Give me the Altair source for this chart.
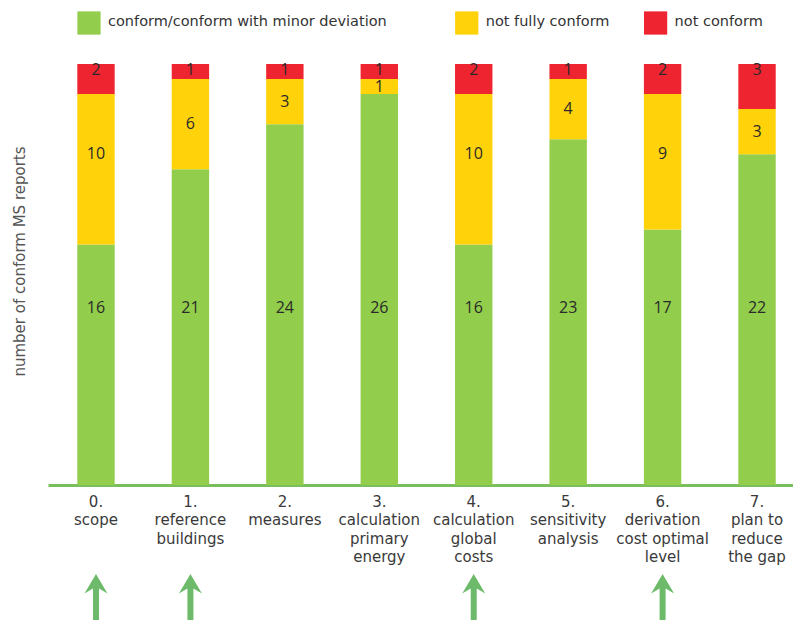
import altair as alt
import pandas as pd

categories = ["0.|scope", "1.|reference|buildings", "2.|measures",
              "3.|calculation|primary|energy", "4.|calculation|global|costs",
              "5.|sensitivity|analysis", "6.|derivation|cost optimal|level",
              "7.|plan to|reduce|the gap"]
conform = [16, 21, 24, 26, 16, 23, 17, 22]
not_fully = [10, 6, 3, 1, 10, 4, 9, 3]
not_conform = [2, 1, 1, 1, 2, 1, 2, 3]

statuses = ["conform/conform with minor deviation", "not fully conform", "not conform"]
status_colors = ["#92CD4C", "#FFD20A", "#EE2530"]
legend_categories = ["0.|scope", "4.|calculation|global|costs", "6.|derivation|cost optimal|level"]
arrow_categories = ["0.|scope", "1.|reference|buildings",
                    "4.|calculation|global|costs", "6.|derivation|cost optimal|level"]

rows = []
for i, c in enumerate(categories):
    for k, vals in enumerate([conform, not_fully, not_conform]):
        rows.append({"category": c, "status": statuses[k], "value": vals[i], "order": k})
df = pd.DataFrame(rows)
legend_df = pd.DataFrame({"category": legend_categories, "status": statuses})
arrow_df = pd.DataFrame({"category": arrow_categories})

xscale = alt.Scale(domain=categories, paddingInner=0.604, paddingOuter=0.2466, align=0.629)
color_scale = alt.Scale(domain=statuses, range=status_colors)

x_enc = alt.X("category:N", sort=categories, scale=xscale,
              axis=alt.Axis(title=None, labelExpr="split(datum.label, '|')", labelAngle=0,
                            labelFont="DejaVu Sans", labelFontSize=15, labelColor="#3a3a3a",
                            labelLineHeight=18.5, labelPadding=9, labelLimit=0,
                            ticks=False, domain=True, domainColor="#7BBE5E", domainWidth=3))

base = alt.Chart(df).transform_stack(
    stack="value", as_=["y0", "y1"], groupby=["category"],
    sort=[alt.SortField("order", order="ascending")])

bars = base.mark_bar().encode(
    x=x_enc,
    y=alt.Y("y0:Q", scale=alt.Scale(domain=[0, 28], nice=False),
            axis=alt.Axis(title="number of conform MS reports", domain=False, ticks=False,
                          labels=False, grid=False, titleAngle=270, titleX=-29, titleY=197,
                          titleBaseline="middle", titleAlign="center",
                          titleFont="DejaVu Sans", titleFontSize=15, titleFontWeight="normal",
                          titleColor="#555555")),
    y2="y1:Q",
    color=alt.Color("status:N", scale=color_scale, legend=None),
)

labels = base.transform_calculate(
    ly="datum.order == 0 ? 11.77 : (datum.order == 2 ? datum.y1 - 0.42 : datum.y1 - min(datum.value / 2, 4))"
).mark_text(font="Open Sans", fontSize=16, color="#2a2a2a", baseline="middle").encode(
    x=alt.X("category:N", sort=categories, scale=xscale),
    y=alt.Y("ly:Q"),
    text="value:Q",
)

legend_sq = alt.Chart(legend_df).mark_square(size=540, opacity=1, xOffset=-7).encode(
    x=alt.X("category:N", sort=categories, scale=xscale),
    y=alt.value(-41),
    color=alt.Color("status:N", scale=color_scale, legend=None),
)
legend_txt = alt.Chart(legend_df).mark_text(
    align="left", baseline="middle", dx=12, font="DejaVu Sans", fontSize=14.5, color="#333333"
).encode(
    x=alt.X("category:N", sort=categories, scale=xscale),
    y=alt.value(-42),
    text="status:N",
)

arrow_path = "M0,-1 L0.46,-0.22 L0.12,-0.42 L0.12,1 L-0.12,1 L-0.12,-0.42 L-0.46,-0.22 Z"
arrows = alt.Chart(arrow_df).mark_point(
    shape=arrow_path, size=2500, filled=True, opacity=1, color="#6DBB6A", strokeWidth=0
).encode(
    x=alt.X("category:N", sort=categories, scale=xscale),
    y=alt.value(535),
)

chart = alt.layer(bars, labels, legend_sq, legend_txt, arrows).properties(
    width=745, height=421,
    autosize=alt.AutoSizeParams(type="none"),
    padding={"left": 48, "top": 64, "right": 0, "bottom": 135},
).configure_view(stroke=None)

chart.save("out.html", embed_options={"renderer": "svg", "actions": False})
